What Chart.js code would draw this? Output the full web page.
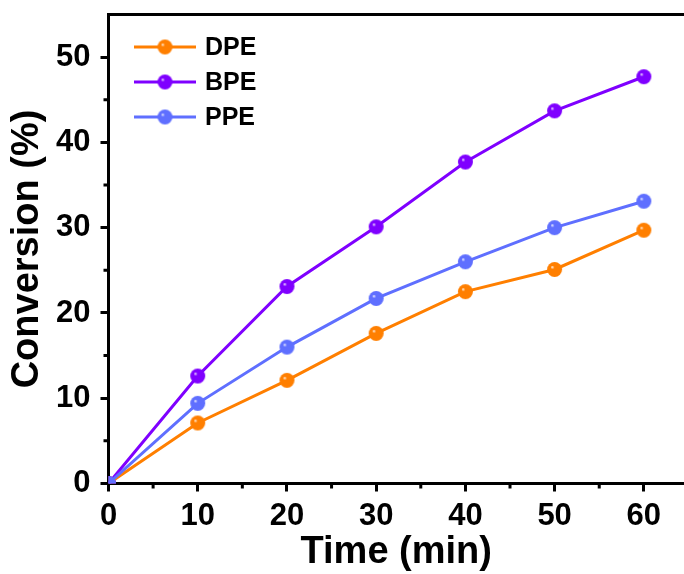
<!DOCTYPE html>
<html>
<head>
<meta charset="utf-8">
<script src="https://cdn.jsdelivr.net/npm/chart.js@4/dist/chart.umd.min.js"></script>
<style>
  html, body { margin: 0; padding: 0; background: #ffffff; }
  #wrap { width: 684px; height: 574px; position: relative; }
</style>
</head>
<body>
<div id="wrap"><canvas id="c" width="684" height="574"></canvas></div>
<script>
// ---- data ----
const times = [0, 10, 20, 30, 40, 50, 60];
const dpe = [0, 7.1, 12.1, 17.6, 22.5, 25.1, 29.7];
const bpe = [0, 12.6, 23.1, 30.1, 37.7, 43.7, 47.7];
const ppe = [0, 9.4, 16.0, 21.7, 26.0, 30.0, 33.1];
const seriesNames = ["DPE", "BPE", "PPE"];
const seriesColors = ["#FF7F00", "#7F00FF", "#5F6FFF"];
const xTickValues = [0, 10, 20, 30, 40, 50, 60];
const yTickValues = [0, 10, 20, 30, 40, 50];
const xMinorValues = [5, 15, 25, 35, 45, 55];
const yMinorValues = [5, 15, 25, 35, 45];

const FONT = "'Liberation Sans', Arial, Helvetica, sans-serif";

function sphere(color, r) {
  const s = Math.ceil(r * 2 + 2);
  const cv = document.createElement('canvas');
  cv.width = s; cv.height = s;
  const g = cv.getContext('2d');
  const c = s / 2;
  const grad = g.createRadialGradient(c - r * 0.35, c - r * 0.35, 0, c, c, r);
  grad.addColorStop(0, '#ffffff');
  grad.addColorStop(0.25, color);
  grad.addColorStop(1, color);
  g.beginPath();
  g.arc(c, c, r, 0, Math.PI * 2);
  g.fillStyle = grad;
  g.fill();
  return cv;
}

const R = 7.5;
const markers = seriesColors.map(c => sphere(c, R));
const seriesValues = [dpe, bpe, ppe];

const datasets = seriesNames.map((name, i) => ({
  label: name,
  data: times.map((t, k) => ({ x: t, y: seriesValues[i][k] })),
  borderColor: seriesColors[i],
  backgroundColor: seriesColors[i],
  borderWidth: 3,
  pointStyle: markers[i],
  pointRadius: R,
  pointHoverRadius: R,
  tension: 0,
  order: [3, 2, 1][i]
}));

function noPad(s) {
  s.paddingTop = 0; s.paddingBottom = 0; s.paddingLeft = 0; s.paddingRight = 0;
}

const extras = {
  id: 'extras',
  afterDraw(chart) {
    const ctx = chart.ctx;
    const xs = chart.scales.x, ys = chart.scales.y;
    const a = chart.chartArea;
    ctx.save();
    ctx.strokeStyle = '#000';
    ctx.lineWidth = 3;
    // top border
    ctx.beginPath();
    ctx.moveTo(a.left - 1.5, a.top);
    ctx.lineTo(a.right, a.top);
    ctx.stroke();
    // minor ticks
    ctx.beginPath();
    xMinorValues.forEach(v => {
      const px = xs.getPixelForValue(v);
      ctx.moveTo(px, a.bottom);
      ctx.lineTo(px, a.bottom + 5);
    });
    yMinorValues.forEach(v => {
      const py = ys.getPixelForValue(v);
      ctx.moveTo(a.left, py);
      ctx.lineTo(a.left - 5, py);
    });
    ctx.stroke();
    // legend
    const lx0 = 134, lx1 = 196, mx = 165, tx = 205;
    const ly = [47, 82, 117];
    ctx.font = 'bold 25px ' + FONT;
    ctx.textBaseline = 'middle';
    ctx.textAlign = 'left';
    seriesNames.forEach((name, i) => {
      ctx.strokeStyle = seriesColors[i];
      ctx.lineWidth = 3;
      ctx.beginPath();
      ctx.moveTo(lx0, ly[i]);
      ctx.lineTo(lx1, ly[i]);
      ctx.stroke();
      const m = markers[i];
      ctx.drawImage(m, mx - m.width / 2, ly[i] - m.height / 2);
      ctx.fillStyle = '#000';
      ctx.fillText(name, tx, ly[i] + 1);
    });
    ctx.restore();
  }
};

new Chart(document.getElementById('c'), {
  type: 'line',
  data: { datasets },
  plugins: [extras],
  options: {
    responsive: false,
    animation: false,
    layout: { autoPadding: false, padding: { top: 14.5, right: 0, left: 0, bottom: 0 } },
    plugins: { legend: { display: false }, tooltip: { enabled: false } },
    scales: {
      x: {
        type: 'linear',
        min: 0,
        max: 64.5,
        afterBuildTicks: s => { s.ticks = xTickValues.map(v => ({ value: v })); },
        afterFit: s => { s.height = 90.5; noPad(s); },
        grid: { display: true, drawOnChartArea: false, drawTicks: true, tickLength: 8, tickWidth: 3, color: '#000' },
        border: { display: true, width: 3, color: '#000' },
        ticks: { color: '#000', font: { family: FONT, size: 31, weight: 'bold' }, padding: 6, maxRotation: 0 },
        title: { display: true, text: 'Time (min)', color: '#000', font: { family: FONT, size: 38, weight: 'bold', lineHeight: 1 }, padding: { top: 0, bottom: 2 } }
      },
      y: {
        type: 'linear',
        min: 0,
        max: 55,
        afterBuildTicks: s => { s.ticks = yTickValues.map(v => ({ value: v })); },
        afterFit: s => { s.width = 108.5; noPad(s); },
        grid: { display: true, drawOnChartArea: false, drawTicks: true, tickLength: 8, tickWidth: 3, color: '#000' },
        border: { display: true, width: 3, color: '#000' },
        ticks: { color: '#000', font: { family: FONT, size: 31, weight: 'bold' }, padding: 10 },
        title: { display: true, text: 'Conversion (%)', color: '#000', font: { family: FONT, size: 38, weight: 'bold', lineHeight: 1 }, padding: { top: 9, bottom: 0 } }
      }
    }
  }
});
</script>
</body>
</html>
